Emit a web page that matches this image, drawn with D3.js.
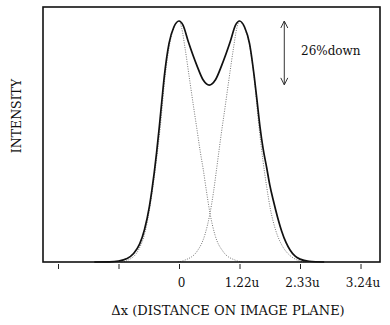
<!DOCTYPE html>
<html>
<head>
<meta charset="utf-8">
<script src="https://cdn.jsdelivr.net/npm/d3@7"></script>
<style>
  body { margin: 0; background: #fff; }
  text { font-family: "DejaVu Serif", "Liberation Serif", serif; fill: #111; }
</style>
</head>
<body>
<div class="chart"></div>
<script>
// tick positions (in peak-separation units) and their printed labels
var tickPos = [-2, -1, 0, 1, 2, 3];
var tickLabels = ["", "", "0", "1.22u", "2.33u", "3.24u"];

// summed intensity (solid line)
var sumX = [-1.4, -1.15, -1.0, -0.87, -0.75, -0.65, -0.57, -0.49, -0.45, -0.41, -0.37, -0.326, -0.285, -0.243, -0.165, -0.085, 0,
  0.066, 0.154, 0.293, 0.40, 0.50, 0.60, 0.707, 0.846, 0.934, 1.0,
  1.083, 1.165, 1.243, 1.285, 1.339, 1.39, 1.45, 1.50, 1.559, 1.63, 1.697, 1.77, 1.835, 1.92, 2.0, 2.15, 2.4];
var sumY = [0, 0.0005, 0.004, 0.013, 0.035, 0.075, 0.135, 0.23, 0.295, 0.37, 0.455, 0.56, 0.665, 0.77, 0.907, 0.975, 1,
  0.983, 0.914, 0.817, 0.755, 0.734, 0.755, 0.817, 0.914, 0.983, 1,
  0.975, 0.907, 0.77, 0.68, 0.56, 0.47, 0.39, 0.32, 0.255, 0.185, 0.128, 0.08, 0.05, 0.024, 0.012, 0.003, 0];

// first single peak (dotted)
var peak1X = [-0.95, -0.84, -0.67, -0.56, -0.48, -0.39, -0.31, -0.23, -0.15, -0.08, 0,
  0.045, 0.10, 0.18, 0.24, 0.30, 0.35, 0.40, 0.45, 0.51, 0.595, 0.73, 0.925, 1.05];
var peak1Y = [0, 0.008, 0.05, 0.125, 0.23, 0.39, 0.56, 0.77, 0.91, 0.975, 1,
  0.97, 0.887, 0.748, 0.645, 0.545, 0.46, 0.385, 0.30, 0.205, 0.112, 0.043, 0.008, 0];

// second single peak (dotted)
var peak2X = [-0.02, 0.10, 0.30, 0.43, 0.512, 0.57, 0.623, 0.66, 0.70, 0.76, 0.82, 0.90, 0.955, 1.0,
  1.074, 1.157, 1.24, 1.314, 1.388, 1.45, 1.51, 1.60, 1.70, 1.80, 1.90, 2.0, 2.1];
var peak2Y = [0, 0.008, 0.045, 0.115, 0.202, 0.29, 0.389, 0.46, 0.535, 0.64, 0.748, 0.887, 0.97, 1,
  0.975, 0.91, 0.77, 0.58, 0.42, 0.31, 0.22, 0.13, 0.07, 0.035, 0.015, 0.004, 0];

var dipValue = 0.735;   // "26% down"
var arrowPos = 1.74;

var svgWidth = 390;
var svgHeight = 325;
var box = { left: 43, top: 7, right: 380, bottom: 262 };

var svg = d3.select(".chart")
  .append("svg")
  .attr("width", svgWidth)
  .attr("height", svgHeight);

var x = d3.scaleLinear()
  .domain([-2.248, 3.322])
  .range([box.left, box.right]);

var y = d3.scaleLinear()
  .domain([0, 1])
  .range([box.bottom, 21]);

var line = d3.line()
  .x(d => x(d[0]))
  .y(d => y(d[1]))
  .curve(d3.curveMonotoneX);

function pairs(xs, ys) { return xs.map((v, i) => [v, ys[i]]); }

// dotted component peaks
[pairs(peak1X, peak1Y), pairs(peak2X, peak2Y)].forEach(function(d) {
  svg.append("path")
    .attr("d", line(d))
    .attr("fill", "none")
    .attr("stroke", "#666")
    .attr("stroke-width", 0.9)
    .attr("stroke-dasharray", "1,1.4");
});

// summed curve
svg.append("path")
  .attr("d", line(pairs(sumX, sumY)))
  .attr("fill", "none")
  .attr("stroke", "#111")
  .attr("stroke-width", 1.7);

// frame
svg.append("rect")
  .attr("x", box.left)
  .attr("y", box.top)
  .attr("width", box.right - box.left)
  .attr("height", box.bottom - box.top)
  .attr("fill", "none")
  .attr("stroke", "#111")
  .attr("stroke-width", 1.6);

// x axis ticks, detached slightly below the frame
var xAxis = d3.axisBottom(x)
  .tickValues(tickPos)
  .tickFormat((d, i) => tickLabels[i])
  .tickSize(5)
  .tickPadding(9);

var axisG = svg.append("g")
  .attr("transform", `translate(0, ${box.bottom + 2})`)
  .call(xAxis);
axisG.select(".domain").remove();
axisG.selectAll(".tick line").attr("stroke", "#222").attr("stroke-width", 1);
axisG.selectAll(".tick text")
  .attr("font-family", "DejaVu Serif, serif")
  .attr("font-size", 12)
  .attr("fill", "#111")
  .attr("dx", 2);

// axis titles
svg.append("text")
  .attr("x", 228)
  .attr("y", 315)
  .attr("text-anchor", "middle")
  .attr("font-size", 13)
  .text("Δx (DISTANCE ON IMAGE PLANE)");

svg.append("text")
  .attr("transform", "translate(21, 116) rotate(-90)")
  .attr("text-anchor", "middle")
  .attr("font-size", 12.5)
  .text("INTENSITY");

// double arrow marking the dip
var ax = x(arrowPos);
var ay1 = y(1), ay2 = y(dipValue);
svg.append("line")
  .attr("x1", ax).attr("x2", ax)
  .attr("y1", ay1).attr("y2", ay2)
  .attr("stroke", "#333")
  .attr("stroke-width", 1);
svg.append("path")
  .attr("d", `M${ax - 3.5},${ay1 + 7}L${ax},${ay1}L${ax + 3.5},${ay1 + 7}` +
             `M${ax - 3.5},${ay2 - 7}L${ax},${ay2}L${ax + 3.5},${ay2 - 7}`)
  .attr("fill", "none")
  .attr("stroke", "#333")
  .attr("stroke-width", 1);

svg.append("text")
  .attr("x", 301)
  .attr("y", 55)
  .attr("font-size", 12)
  .text("26%down");
</script>
</body>
</html>
